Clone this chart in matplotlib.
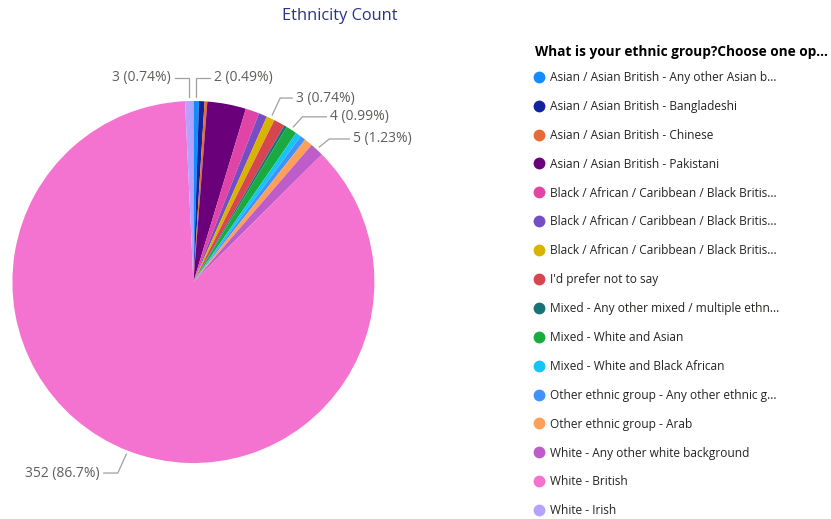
import matplotlib.pyplot as plt
from matplotlib.lines import Line2D
import numpy as np

plt.rcParams['font.family'] = ['Open Sans', 'DejaVu Sans']

# ── DATA ──────────────────────────────────────────────────────────────────────

categories = [
    "Asian / Asian British - Any other Asian b...",
    "Asian / Asian British - Bangladeshi",
    "Asian / Asian British - Chinese",
    "Asian / Asian British - Pakistani",
    "Black / African / Caribbean / Black Britis...",
    "Black / African / Caribbean / Black Britis...",
    "Black / African / Caribbean / Black Britis...",
    "I'd prefer not to say",
    "Mixed - Any other mixed / multiple ethn...",
    "Mixed - White and Asian",
    "Mixed - White and Black African",
    "Other ethnic group - Any other ethnic g...",
    "Other ethnic group - Arab",
    "White - Any other white background",
    "White - British",
    "White - Irish",
]
counts = [2, 2, 1, 14, 5, 3, 3, 4, 1, 4, 2, 2, 3, 5, 352, 3]
colors = ['#118DFF', '#12239E', '#E66C37', '#6B007B', '#E044A7', '#744EC2',
          '#D9B300', '#D64550', '#197278', '#1AAB40', '#15C6F4', '#4092FF',
          '#FFA058', '#BE5DC9', '#F472D0', '#B5A1FF']

# slices with a data label: index -> leader elbow offset (dx, dy) and arm, in px
labelled = {15: (0, -19.5, -14), 0: (0, -19.5, 14), 6: (8, -17, 12),
            9: (9, -10, 24), 13: (10, -8, 20), 14: (-8.6, 19, -14)}

# ── PLOT ──────────────────────────────────────────────────────────────────────

W, H = 831, 519
fig = plt.figure(figsize=(W / 100, H / 100), dpi=100)

cx, cy, r_px = 193.4, 282, 181
half = 200
ax = fig.add_axes([(cx - half) / W, (H - cy - half) / H, 2 * half / W, 2 * half / H])
R = half / r_px
wedges, _ = ax.pie(counts, colors=colors, startangle=90, counterclock=False,
                   radius=1, wedgeprops=dict(linewidth=0))
ax.set_xlim(-R, R)
ax.set_ylim(-R, R)
ax.set_aspect('equal')
ax.axis('off')

total = sum(counts)
grey = '#605E5C'
for i, (dx, dy, arm) in labelled.items():
    w = wedges[i]
    mid = np.deg2rad((w.theta1 + w.theta2) / 2)
    x0, y0 = 1.02 * np.cos(mid), 1.02 * np.sin(mid)
    x1, y1 = x0 + dx / r_px, y0 - dy / r_px
    x2 = x1 + arm / r_px
    ax.plot([x0, x1, x2], [y0, y1, y1], color='#A0A0A0', lw=0.9,
            clip_on=False, solid_joinstyle='miter')
    pct = counts[i] / total * 100
    txt = f"{counts[i]} ({pct:.3g}%)" if pct > 10 else f"{counts[i]} ({pct:.2f}%)"
    side = np.sign(arm)
    ax.text(x2 + side * 4 / r_px, y1, txt, color=grey, fontsize=10,
            ha='left' if side > 0 else 'right', va='center', clip_on=False)

fig.text(340 / W, 1 - 16 / H, "Ethnicity Count", color='#27348B',
         fontsize=11.8, ha='center', va='center')

fig.text(535 / W, 1 - 52 / H, "What is your ethnic group?Choose one op...",
         fontsize=9.8, fontweight='bold', color='#000000', ha='left', va='center')

handles = [Line2D([], [], marker='o', linestyle='', markersize=8.5,
                  markerfacecolor=c, markeredgewidth=0) for c in colors]
leg = fig.legend(handles, categories, loc='upper left',
                 bbox_to_anchor=(534 / W, 1 - 71 / H), frameon=False,
                 fontsize=8.6, labelspacing=1.33, handlelength=0.85,
                 handletextpad=0.45, borderpad=0, borderaxespad=0)
for t in leg.get_texts():
    t.set_color('#252423')

plt.savefig("out.png", dpi=100)
